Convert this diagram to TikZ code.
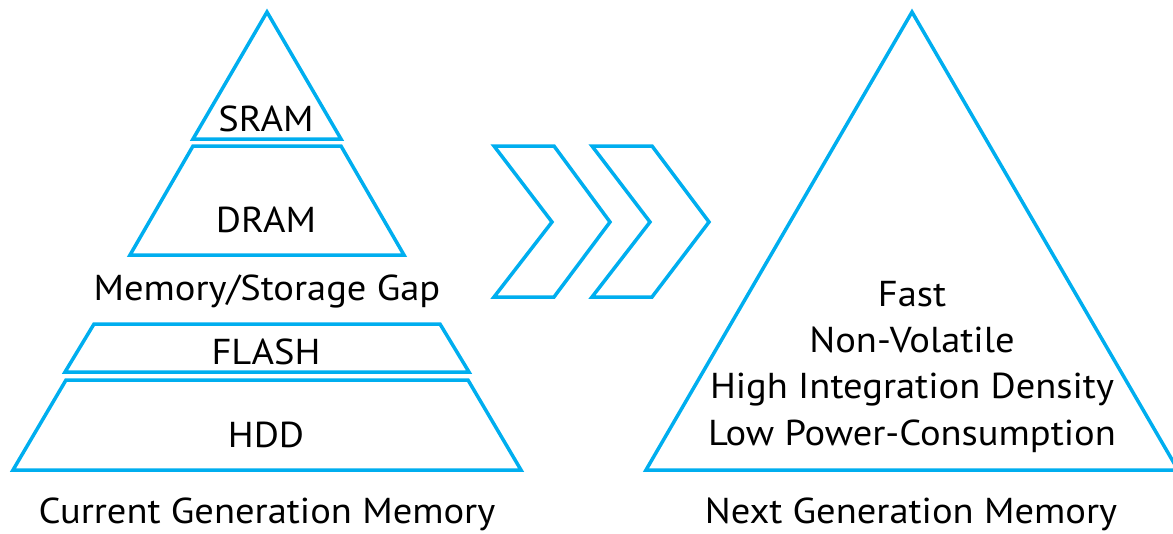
\documentclass[tikz,border=0pt]{standalone}
\usepackage{fontspec}
\setmainfont{PT Sans}[FakeStretch=1.07]
\definecolor{layerblue}{RGB}{0,174,239}
\tikzset{
  layer/.style={draw=layerblue, line width=3.5pt, line join=miter},
  lbl/.style={inner sep=0pt, anchor=base, font=\fontsize{36}{43}\selectfont},
}
\begin{document}
\begin{tikzpicture}[x=1pt, y=-1pt]
  \useasboundingbox (0,0) rectangle (1173,533);

  % current hierarchy: stacked pyramid layers
  \draw[layer] (267,12) -- (341,139) -- (193,139) -- cycle;
  \draw[layer] (193,146) -- (341,146) -- (404,255) -- (130,255) -- cycle;
  \draw[layer] (94,324) -- (440,324) -- (469,372) -- (65,372) -- cycle;
  \draw[layer] (66,380) -- (468,380) -- (521,470) -- (13,470) -- cycle;

  \node[lbl] (sram)  at (266,131) {SRAM};
  \node[lbl] (dram)  at (266,232) {DRAM};
  \node[lbl] (gap)   at (267,300) {Memory/Storage Gap};
  \node[lbl] (flash) at (266,364) {FLASH};
  \node[lbl] (hdd)   at (266,447) {HDD};
  \node[lbl] (cur)   at (267,523) {Current Generation Memory};

  % transition chevrons
  \draw[layer] (494,146) -- (554,146) -- (610,222) -- (554,297) -- (494,297) -- (552,222) -- cycle;
  \draw[layer] (592,146) -- (652,146) -- (709,222) -- (652,297) -- (592,297) -- (650,222) -- cycle;

  % next generation pyramid
  \draw[layer] (912,12) -- (1178,470) -- (646,470) -- cycle;
  \node[lbl] (fast) at (912,306) {Fast};
  \node[lbl] (nv)   at (912,352) {Non-Volatile};
  \node[lbl] (hid)  at (912,398) {High Integration Density};
  \node[lbl] (lpc)  at (912,445) {Low Power-Consumption};
  \node[lbl] (next) at (911,523) {Next Generation Memory};
\end{tikzpicture}
\end{document}
